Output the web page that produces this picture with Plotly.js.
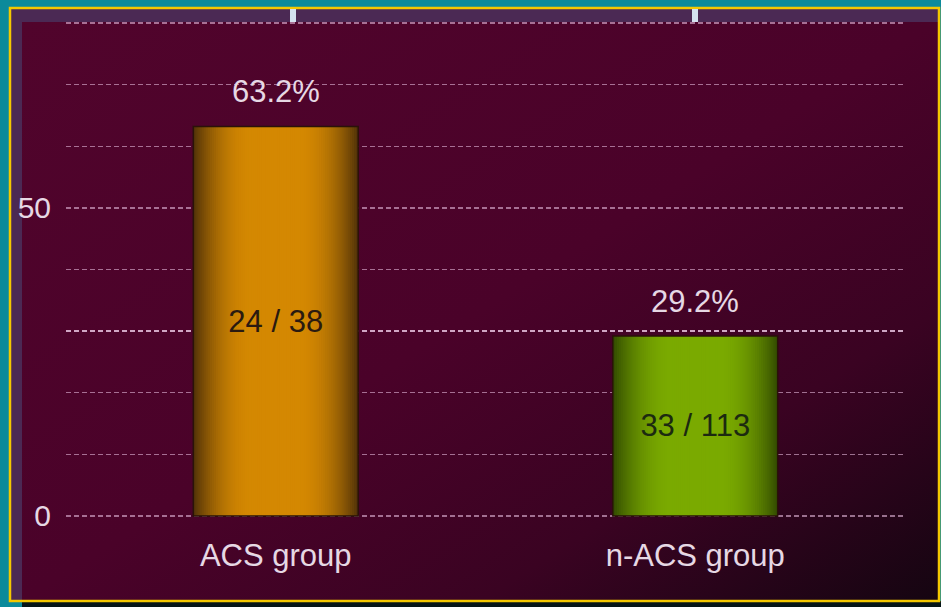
<!DOCTYPE html>
<html>
<head>
<meta charset="utf-8">
<script src="https://cdn.plot.ly/plotly-3.0.1.min.js"></script>
<style>
html,body{margin:0;padding:0;background:#0b8a9b;}
#chart{width:941px;height:607px;}
</style>
</head>
<body>
<div id="chart"></div>
<script>
// ---- data ----
const categories = ['ACS group', 'n-ACS group'];
const percentValues = [63.2, 29.2];
const eventCounts = [24, 33];
const groupTotals = [38, 113];
const yTickValues = [0, 10, 20, 30, 40, 50, 60, 70, 80];
const yTickLabels = ['0', '', '', '', '', '50', '', '', ''];

// ---- style ----
const FONT = 'Liberation Sans, Arial, sans-serif';
const LIGHT = '#e6d8e4';
const BAR_WIDTH = 0.393;
const edgeColors = [[84, 52, 8], [52, 78, 0]];
const centerColors = [[212, 136, 2], [122, 170, 0]];
const insideTextColors = ['#2a1a10', '#1c2a10'];
const N_LAYERS = 40;

// plot area in pixels: x 66..905, y 20..519
const PX = p => (p - 66) / 839;
const PY = p => (519 - p) / 499;

function mix(a, b, t) {
  return 'rgb(' + a.map((v, i) => Math.round(v + (b[i] - v) * t)).join(',') + ')';
}

const traces = [];
for (let j = 0; j < N_LAYERS; j++) {
  const t = j / N_LAYERS;
  let s = Math.min(1, t / 0.7);
  s = s * (2 - s);
  traces.push({
    type: 'bar',
    x: categories,
    y: percentValues,
    width: BAR_WIDTH * (1 - t),
    marker: {color: categories.map((c, i) => mix(edgeColors[i], centerColors[i], s)), line: {width: 0}},
    hoverinfo: 'skip',
    showlegend: false
  });
}
// top transparent layer: outline + inside label
traces.push({
  type: 'bar',
  x: categories,
  y: percentValues,
  width: BAR_WIDTH,
  marker: {color: 'rgba(0,0,0,0)', line: {color: '#2a1208', width: 1.5}},
  text: categories.map((c, i) => eventCounts[i] + ' / ' + groupTotals[i]),
  textposition: 'inside',
  insidetextanchor: 'middle',
  textangle: 0,
  constraintext: 'none',
  textfont: {family: FONT, size: 31, color: insideTextColors},
  showlegend: false
});

const annotations = categories.map((c, i) => ({
  x: c, y: percentValues[i], xref: 'x', yref: 'y',
  text: percentValues[i].toFixed(1) + '%',
  showarrow: false, yanchor: 'middle', yshift: 35,
  font: {family: FONT, size: 31, color: LIGHT}
}));

const bgSvg = "<svg xmlns='http://www.w3.org/2000/svg' width='100' height='100' viewBox='0 0 100 100' preserveAspectRatio='none'>" +
  "<defs><linearGradient id='g' x1='0' y1='0' x2='1' y2='1'>" +
  "<stop offset='0' stop-color='#51042c'/><stop offset='0.5' stop-color='#4a0229'/>" +
  "<stop offset='0.75' stop-color='#3a0322'/><stop offset='1' stop-color='#150511'/>" +
  "</linearGradient></defs><rect width='100' height='100' fill='url(#g)'/></svg>";

const shapes = [
  {type: 'rect', xref: 'paper', yref: 'paper', x0: PX(10), x1: PX(939), y0: PY(22), y1: PY(8), fillcolor: '#4b2954', line: {width: 0}, layer: 'below'},
  {type: 'rect', xref: 'paper', yref: 'paper', x0: PX(10), x1: PX(22), y0: PY(601), y1: PY(22), fillcolor: '#4b2954', line: {width: 0}, layer: 'below'},
  {type: 'rect', xref: 'paper', yref: 'paper', x0: PX(22), x1: PX(941), y0: PY(607), y1: PY(601), fillcolor: '#051517', line: {width: 0}, layer: 'below'},
  {type: 'rect', xref: 'paper', yref: 'paper', x0: PX(10), x1: PX(939), y0: PY(601), y1: PY(8), fillcolor: 'rgba(0,0,0,0)', line: {color: '#f4c800', width: 2.5}, layer: 'below'},
  {type: 'rect', xref: 'paper', yref: 'paper', x0: PX(290), x1: PX(296), y0: PY(22), y1: PY(9), fillcolor: '#d4e2f0', line: {width: 0}, layer: 'below'},
  {type: 'rect', xref: 'paper', yref: 'paper', x0: PX(692), x1: PX(698), y0: PY(22), y1: PY(9), fillcolor: '#d4e2f0', line: {width: 0}, layer: 'below'},
  {type: 'line', xref: 'paper', yref: 'y', x0: 0, x1: 1, y0: 30, y1: 30, line: {color: 'rgba(245,225,240,0.85)', width: 1.5, dash: '5px,3px'}, layer: 'below'}
];

const layout = {
  width: 941, height: 607,
  margin: {l: 66, r: 36, t: 20, b: 88, pad: 0},
  paper_bgcolor: '#0b8a9b',
  plot_bgcolor: 'rgba(0,0,0,0)',
  barmode: 'overlay',
  showlegend: false,
  font: {family: FONT, color: LIGHT},
  xaxis: {
    type: 'category', range: [-0.5, 1.5], showgrid: false, zeroline: false,
    showline: false, ticks: '', ticklabelstandoff: 15,
    tickfont: {family: FONT, size: 31, color: LIGHT}, fixedrange: true
  },
  yaxis: {
    range: [-0.5, 80.5], tickmode: 'array', tickvals: yTickValues, ticktext: yTickLabels,
    showgrid: true, gridcolor: 'rgba(225,180,215,0.62)', gridwidth: 1.3, griddash: '5px,3px',
    zeroline: false, showline: false, ticks: '', ticklabelstandoff: 14,
    tickfont: {family: FONT, size: 30, color: LIGHT}, fixedrange: true
  },
  images: [{
    source: 'data:image/svg+xml;base64,' + btoa(bgSvg),
    xref: 'paper', yref: 'paper', x: PX(22), y: PY(22),
    sizex: PX(938) - PX(22), sizey: PY(22) - PY(601),
    xanchor: 'left', yanchor: 'top', sizing: 'stretch', layer: 'below'
  }],
  shapes: shapes,
  annotations: annotations
};

Plotly.newPlot('chart', traces, layout, {staticPlot: true, displayModeBar: false});
</script>
</body>
</html>
